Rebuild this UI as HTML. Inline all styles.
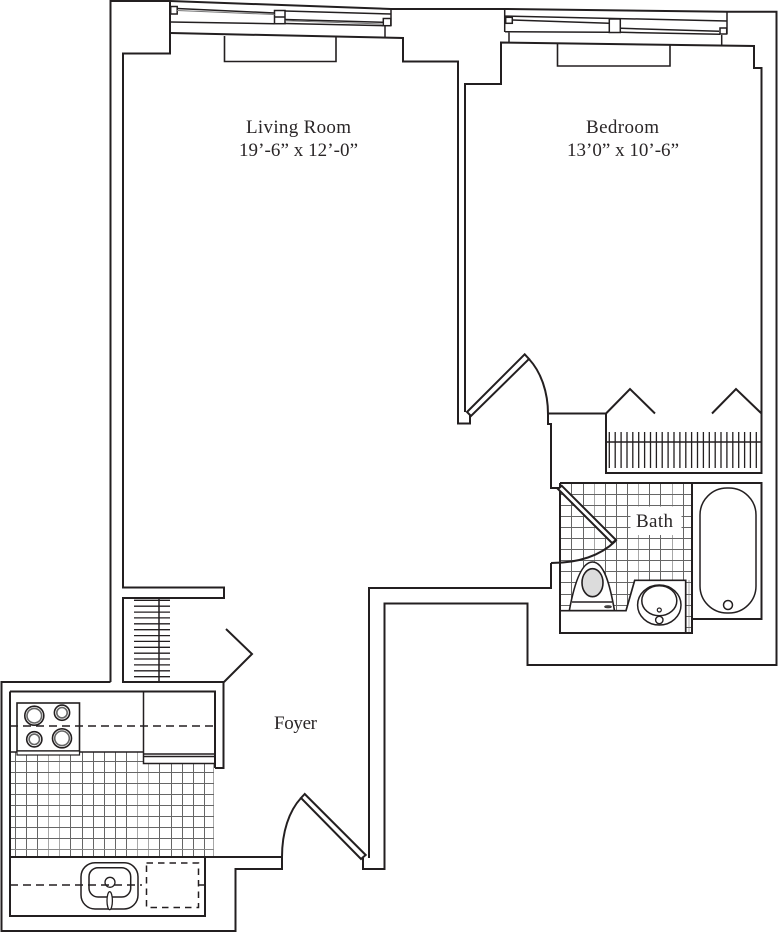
<!DOCTYPE html>
<html><head><meta charset="utf-8"><title>Floor plan</title>
<style>html,body{margin:0;padding:0;background:#fff}svg{display:block}
text{font-family:"Liberation Serif",serif;font-size:19px;fill:#2a2627}
</style></head><body>
<svg width="778" height="932" viewBox="0 0 778 932" xmlns="http://www.w3.org/2000/svg">
<rect width="778" height="932" fill="#fff"/>

<!-- kitchen grid -->
<g fill="none" stroke-width="1">
<path stroke="#666" d="M15.5 752V857M26.5 752V857M37.5 752V857M70.5 752V857M82.5 752V857M93.5 752V857M104.5 752V857M115.5 752V857M126.5 752V857M159.5 752V857M171.5 752V857M182.5 752V857M193.5 752V857M204.5 752V857"/>
<path stroke="#a8a8a8" d="M48.5 752V857M59.5 752V857M137.5 752V857M148.5 752V857M213.5 764V856"/>
<path stroke="#666" d="M10 761.5H214M10 772.5H214M10 783.5H214M10 794.5H214M10 805.5H214M10 816.5H214M10 827.5H214M10 838.5H214"/>
<path stroke="#888" d="M10 849.5H214"/>
</g>

<!-- bath grid -->
<g fill="none" stroke-width="1">
<path stroke="#666" d="M571.5 483V611M583.5 483V611M605.5 483V611M616.5 483V611M627.5 483V611M649.5 483V581M660.5 483V581M683.5 483V581"/>
<path stroke="#a8a8a8" d="M594.5 483V611M638.5 483V581M672.5 483V581M689 580V633"/>
<path stroke="#666" d="M560 494.5H692M560 505.5H692M560 516.5H692M560 527.5H692M560 538.5H692M560 549.5H692M560 560.5H692M560 571.5H692M560 582.5H692M560 594.5H692M560 605.5H692M686 616.5H692M686 627.5H692"/>
</g>
<rect x="630.5" y="506.5" width="51" height="28.5" fill="#fff"/>

<!-- walls and outlines -->
<g fill="none" stroke="#231f20" stroke-width="2" stroke-linejoin="miter">
<!-- outer -->
<path d="M391 9L505 9L727 11.7L776.5 11.7V665H527.5V603.5H384.5V869H363V858"/>
<path d="M110.5 682V1H170L391 9"/>
<path d="M224 682H123V598H224V587.5H123V53.5H170V1"/>
<path d="M110.5 682H1.5V931H235.5V869H282V857H205"/>
<path d="M170.5 33L403 38V61.5H458V423.5H470V415"/>
<path d="M465 412V84H501V42.5L754 46V68H761.5V473H606V413.5H548V424H551V488H560"/>
<path d="M369 858V588H551V563"/>
<path d="M606 413.5L630 389L655 413.5M712 413.5L736 389L761.5 413.5"/>
<path d="M224 682L252 654L226 629"/>
<path d="M223.5 682V768H215"/>
<!-- kitchen -->
<path d="M10 691.5H215V768M10 691.5V916H205V857M10 857H205"/>
<!-- bath box -->
<path d="M560 483H761.5V619H692M692 483V633H560V483"/>
</g>

<!-- windows -->
<g fill="none" stroke="#231f20" stroke-width="1.5">
<path d="M391 9V26M170.5 22L274.5 23.7M177 8.5L274.5 13M285 11L391 14M285 23.5L383 25.7M285 19.5L383 22.3M385 26V38"/>
<rect x="170.7" y="6.5" width="6.5" height="7.5" fill="#fff"/>
<rect x="274.5" y="10.5" width="10.5" height="13.2" fill="#fff"/>
<path d="M274.5 17H285"/>
<rect x="383.3" y="18.5" width="7.5" height="7.2" fill="#fff"/>
<path d="M224.5 36V61.5H336V37" stroke-width="1.6"/>
<path stroke="#777" stroke-width="1" d="M177 10.5L274.5 14.5M285.5 20.8L383 24"/>
<path d="M504.7 9V32M727 11.7V34M505 16L727 21M505 31.7L609 32.3M621 32.3L720 34.3M512 20L609 23.3M621 28.3L719 31.3M509 32V42.5M721.7 35V45.5"/>
<rect x="505.7" y="17.3" width="6.6" height="6" fill="#fff"/>
<rect x="609.3" y="19" width="11" height="13.5" fill="#fff"/>
<rect x="720" y="28" width="6.7" height="6" fill="#fff"/>
<path d="M557.5 44V66H670V45" stroke-width="1.6"/>
</g>

<!-- doors -->
<g fill="none" stroke="#231f20" stroke-width="2">
<path d="M467 412L524.7 354.3L529 359L471 416Z" fill="#fff"/>
<path d="M529 359C541 372 548 392 548 414"/>
<path d="M304.7 794L301 798L361 859L365.7 855Z" fill="#fff"/>
<path d="M301 798C289 811 282 832 282 857"/>
<path d="M561.7 485.7L558 489L612 543L616 540Z" fill="#fff"/>
<path d="M615.5 541C600 556 578 563 551 563"/>
</g>

<!-- closet rods -->
<g fill="none" stroke="#231f20">
<path stroke-width="1.5" d="M606 442H761M159 598V682"/>
<path stroke-width="1.3" d="M609.3 432V468M615.2 432V468M621.1 432V468M627 432V468M632.8 432V468M638.7 432V468M644.6 432V468M650.5 432V468M656.4 432V468M662.2 432V468M668.1 432V468M674 432V468M679.9 432V468M685.8 432V468M691.6 432V468M697.5 432V468M703.4 432V468M709.3 432V468M715.2 432V468M721 432V468M726.9 432V468M732.8 432V468M738.7 432V468M744.6 432V468M750.4 432V468M756.3 432V468"/>
<path stroke-width="1.3" d="M134 600.3H170M134 606.2H170M134 612.1H170M134 617.9H170M134 623.8H170M134 629.7H170M134 635.6H170M134 641.4H170M134 647.3H170M134 653.2H170M134 659H170M134 664.9H170M134 670.8H170M134 676.7H170"/>
</g>

<!-- toilet -->
<g stroke="#231f20" stroke-width="1.6" fill="#fff">
<path d="M569.3 610.7C574 585 581 562 592.5 562C604 562 610 585 614.5 610.7Z"/>
<path d="M572 602H612" fill="none"/>
<ellipse cx="592.5" cy="582.7" rx="10.5" ry="14" fill="#dcdcdc"/>
<ellipse cx="608" cy="606.7" rx="3.5" ry="1.2" fill="#444" stroke-width="0.6"/>
</g>
<!-- vanity -->
<g stroke="#231f20" fill="none">
<path d="M561 632V610.7H626L634.7 580.3H685.7V632Z" fill="#fff" stroke="none"/>
<path d="M560 610.7H626L634.7 580.3H685.7V633" stroke-width="1.7"/>
<ellipse cx="659.3" cy="605" rx="21.7" ry="20" stroke-width="1.5"/>
<ellipse cx="659.3" cy="600.7" rx="17.5" ry="15" stroke-width="1.5"/>
<circle cx="659.3" cy="610" r="2" stroke-width="1.2"/>
<circle cx="659.3" cy="620" r="3.7" stroke-width="1.4" fill="#fff"/>
</g>
<!-- tub -->
<g stroke="#231f20" fill="none" stroke-width="1.5">
<rect x="700" y="488" width="56" height="125" rx="27" ry="27"/>
<circle cx="728" cy="605" r="4.5"/>
</g>

<!-- stove, fridge -->
<g stroke="#231f20" fill="none">
<rect x="144" y="752" width="70" height="11.5" fill="#fff" stroke="none"/>
<path d="M10 752H17M79.5 752H143.5" stroke-width="1.4"/>
<rect x="17" y="703" width="62.5" height="48" fill="#fff" stroke-width="1.6"/>
<rect x="17" y="751" width="62.5" height="4" fill="#fff" stroke-width="1.2"/>
<path d="M143.5 691.5V763.5H215M143.5 754H215M143.5 756.5H215" stroke-width="1.5" />
<path d="M10 726H215" stroke-width="1.5" stroke-dasharray="8 5"/>
<g fill="#fff" stroke-width="1.6">
<circle cx="34.3" cy="715.7" r="9.5"/><circle cx="34.3" cy="715.7" r="7.3" fill="none" stroke="#666"/>
<circle cx="62" cy="712.7" r="7.6"/><circle cx="62" cy="712.7" r="5.2" fill="none" stroke="#666"/>
<circle cx="34.3" cy="739.3" r="7.6"/><circle cx="34.3" cy="739.3" r="5.2" fill="none" stroke="#666"/>
<circle cx="62" cy="738.3" r="9.5"/><circle cx="62" cy="738.3" r="7.3" fill="none" stroke="#666"/>
</g>
<!-- kitchen sink -->
<rect x="81" y="862.7" width="57" height="46.3" rx="14" ry="14" stroke-width="1.5"/>
<rect x="89" y="867.7" width="41.7" height="29.3" rx="9" ry="9" stroke-width="1.5"/>
<path d="M10 885H142" stroke-width="1.5" stroke-dasharray="8 5"/>
<circle cx="110" cy="882.3" r="5" stroke-width="1.3"/>
<ellipse cx="109.7" cy="900.7" rx="2.7" ry="9" fill="#fff" stroke-width="1.3"/>
<rect x="146.5" y="863" width="52" height="44.5" stroke-width="1.5" stroke-dasharray="6.5 5"/>
<path d="M198.5 885H205" stroke-width="1.5"/>
</g>

<!-- labels -->
<text x="246" y="133" textLength="105" lengthAdjust="spacing">Living Room</text>
<text x="239" y="156" textLength="119" lengthAdjust="spacing">19’-6” x 12’-0”</text>
<text x="586" y="133" textLength="73" lengthAdjust="spacing">Bedroom</text>
<text x="567" y="156" textLength="112" lengthAdjust="spacing">13’0” x 10’-6”</text>
<text x="636" y="527" textLength="37" lengthAdjust="spacing">Bath</text>
<text x="274" y="729" textLength="43" lengthAdjust="spacing">Foyer</text>
</svg>
</body></html>
